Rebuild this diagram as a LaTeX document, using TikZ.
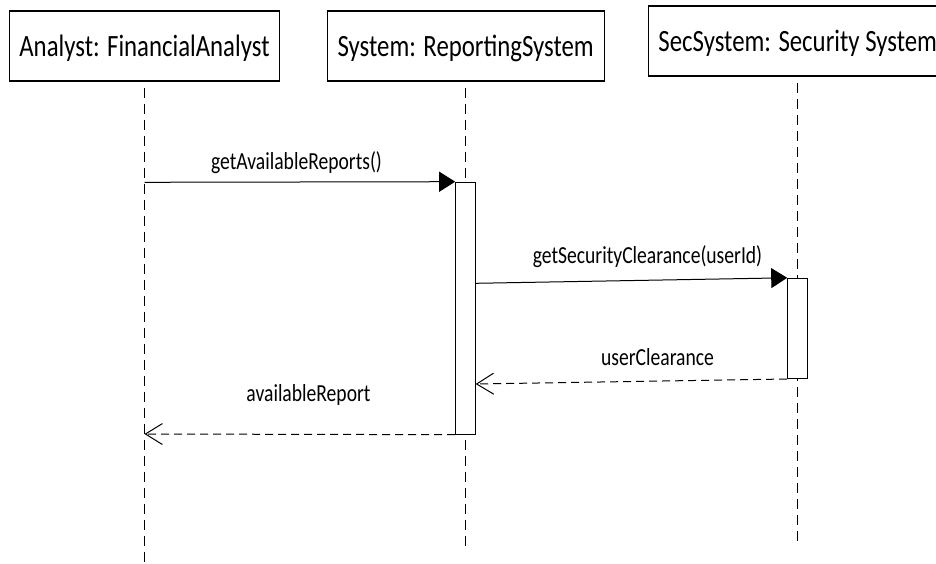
\documentclass[tikz,border=0pt]{standalone}
\usepackage{fontspec}
\setmainfont[FakeStretch=0.8]{Carlito}
\usetikzlibrary{arrows.meta}

\tikzset{
  objbox/.style={draw=black, line width=1.1pt, fill=white, inner sep=0pt,
    minimum height=70pt, text height=22pt, text depth=0pt,
    font=\fontsize{31}{31}\selectfont},
  lifeline/.style={draw=black, line width=0.9pt, dash pattern=on 10pt off 6pt, dash phase=10pt},
  activation/.style={draw=black, line width=1pt, fill=white, inner sep=0pt, minimum width=20pt},
  callmsg/.style={draw=black, line width=1pt, -{Triangle[length=16pt,width=20pt]}},
  replymsg/.style={draw=black, line width=1pt, dash pattern=on 8pt off 5pt,
    -{Straight Barb[length=17pt,width=21pt,line width=1pt]}},
  msglabel/.style={anchor=base, inner sep=0pt, font=\fontsize{24.5}{24.5}\selectfont}
}

\begin{document}
\begin{tikzpicture}[x=1pt, y=-1pt]
  \useasboundingbox (0,0) rectangle (936,564);
  \clip (0,0) rectangle (936,564);

  % participants
  \node[objbox, minimum width=270pt] (analyst) at (144.5,46) {Analyst: FinancialAnalyst};
  \node[objbox, minimum width=277pt] (system) at (465.7,46) {System: ReportingSystem};
  \node[objbox, minimum width=299pt] (secsys) at (797.7,41) {SecSystem: Security System};

  % lifeline ends
  \coordinate (end1) at (144.5,566);
  \coordinate (end2) at (465.7,546);
  \coordinate (end3) at (797.7,546);

  \draw[lifeline] (analyst.south) -- (end1);
  \draw[lifeline] (system.south) -- (end2);
  \draw[lifeline] (secsys.south) -- (end3);

  % activation bars
  \node[activation, minimum height=252pt] (act2) at (465.7,308.2) {};
  \node[activation, minimum height=100.2pt] (act3) at (797.7,328.4) {};

  % message end points
  \coordinate (m1s) at (144.5,182.3);
  \coordinate (m2s) at (475.7,283.3);
  \coordinate (m3e) at (475.7,384);
  \coordinate (m4e) at (144.5,434);

  % messages
  \draw[callmsg] (m1s) -- (act2.north west);
  \draw[callmsg] (m2s) -- (act3.north west);
  \draw[replymsg] (act3.south west) -- (m3e);
  \draw[replymsg] (act2.south west) -- (m4e);

  % message labels
  \node[msglabel] (l1) at (296.5,170) {getAvailableReports()};
  \node[msglabel] (l2) at (647.5,263) {getSecurityClearance(userId)};
  \node[msglabel] (l3) at (657.5,365) {userClearance};
  \node[msglabel] (l4) at (308.5,401) {availableReport};
\end{tikzpicture}
\end{document}
